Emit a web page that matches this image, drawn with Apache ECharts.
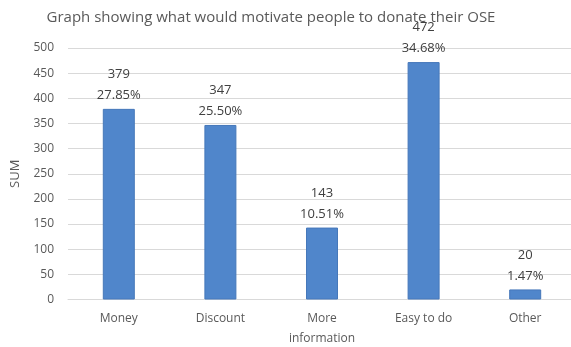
<!DOCTYPE html>
<html>
<head>
<meta charset="utf-8">
<script src="https://cdn.jsdelivr.net/npm/echarts@6/dist/echarts.min.js"></script>
<style>
  html, body { margin: 0; padding: 0; background: #fff; }
  #chart { width: 571px; height: 347px; }
</style>
</head>
<body>
<div id="chart"></div>
<script>
// Responses: what would motivate people to donate their OSE
const categories = ['Money', 'Discount', 'More\ninformation', 'Easy to do', 'Other'];
const sums = [379, 347, 143, 472, 20];
const shares = ['27.85%', '25.50%', '10.51%', '34.68%', '1.47%'];
const yTicks = [0, 50, 100, 150, 200, 250, 300, 350, 400, 450, 500];

const FONT = 'Open Sans';
const chart = echarts.init(document.getElementById('chart'));
chart.setOption({
  animation: false,
  textStyle: { fontFamily: FONT },
  title: {
    text: 'Graph showing what would motivate people to donate their OSE',
    left: 266, top: 5,
    textAlign: 'center',
    textStyle: { fontFamily: FONT, fontSize: 15, fontWeight: 'normal', color: '#595959' }
  },
  grid: { left: 68, top: 48, width: 508, bottom: 47.5, containLabel: false, outerBoundsMode: 'none' },
  xAxis: {
    type: 'category',
    data: categories,
    axisLine: { lineStyle: { color: '#d9d9d9', width: 1 } },
    axisTick: { show: false },
    axisLabel: { color: '#595959', fontSize: 12, margin: 9, lineHeight: 20, interval: 0 }
  },
  yAxis: {
    type: 'value',
    min: yTicks[0], max: yTicks[yTicks.length - 1], interval: 50,
    name: 'SUM',
    nameLocation: 'middle',
    nameGap: 46,
    nameRotate: 90,
    nameTextStyle: { color: '#595959', fontSize: 13 },
    axisLine: { show: false },
    axisTick: { show: false },
    axisLabel: { color: '#595959', fontSize: 12, margin: 14 },
    splitLine: { lineStyle: { color: '#d9d9d9', width: 1 } }
  },
  series: [{
    type: 'bar',
    data: sums,
    barWidth: 32,
    itemStyle: { color: '#5086cb', borderColor: '#4678ba', borderWidth: 1 },
    label: {
      show: true,
      position: 'top',
      distance: 3,
      color: '#404040',
      fontSize: 13,
      lineHeight: 21,
      formatter: p => p.value + '\n' + shares[p.dataIndex]
    }
  }]
});
</script>
</body>
</html>
